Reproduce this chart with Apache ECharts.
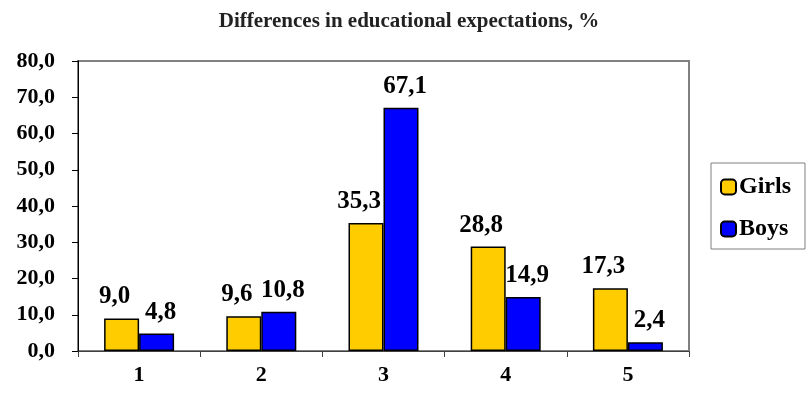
<!DOCTYPE html>
<html><head><meta charset="utf-8">
<script src="https://cdn.jsdelivr.net/npm/echarts@6/dist/echarts.min.js"></script>
<style>html,body{margin:0;padding:0;background:#fff}#c{width:812px;height:404px}</style>
</head><body><div id="c"></div>
<script>
var categories = ['1','2','3','4','5'];
var girls = [9.0, 9.6, 35.3, 28.8, 17.3];
var boys = [4.8, 10.8, 67.1, 14.9, 2.4];
var titleText = 'Differences in educational expectations, %';

var fmt = function(v){ return Number(v).toFixed(1).replace('.', ','); };
var ff = '"Liberation Serif", "Times New Roman", serif';
var chart = echarts.init(document.getElementById('c'));
function mkLabel(dx){
  return {show:true, position:'top', distance:9, offset:[dx,0], fontFamily:ff, fontWeight:'bold', fontSize:25, color:'#000',
    formatter:function(p){return fmt(p.value);}};
}
chart.setOption({
  animation:false,
  backgroundColor:'#fff',
  title:{text:titleText, left:404, textAlign:'center', top:6,
    textStyle:{fontFamily:ff, fontWeight:'bold', fontSize:21, color:'#222'}},
  legend:{orient:'vertical', left:711, top:163, itemWidth:15, itemHeight:15, itemGap:18,
    padding:[12,14,8,9], borderColor:'#808080', borderWidth:1,
    textStyle:{fontFamily:ff, fontWeight:'bold', fontSize:24, color:'#000', padding:[0,0,0,-2]},
    data:['Girls','Boys']},
  grid:{left:78, right:123, top:61, bottom:53, show:true, borderColor:'#808080', borderWidth:2, backgroundColor:'#fff'},
  xAxis:{type:'category', data:categories,
    axisLine:{lineStyle:{color:'#404040', width:1}},
    axisTick:{show:true, length:6, lineStyle:{color:'#404040'}},
    axisLabel:{fontFamily:ff, fontWeight:'bold', fontSize:22, color:'#000', margin:13}},
  yAxis:{type:'value', min:0, max:80, interval:10,
    axisLine:{show:true, lineStyle:{color:'#000', width:1}},
    axisTick:{show:true, length:6, lineStyle:{color:'#000'}},
    splitLine:{show:false},
    axisLabel:{fontFamily:ff, fontWeight:'bold', fontSize:22, color:'#000', margin:23, formatter:fmt}},
  series:[
    {name:'Girls', type:'bar', data:girls, barWidth:35, barGap:'0%',
      itemStyle:{color:'#FFCC00', borderColor:'#000', borderWidth:1.5}, label:mkLabel(-7)},
    {name:'Boys', type:'bar', data:boys, barWidth:35, barGap:'0%',
      itemStyle:{color:'#0000FF', borderColor:'#000', borderWidth:1.5}, label:mkLabel(4)}
  ]
});
</script></body></html>
